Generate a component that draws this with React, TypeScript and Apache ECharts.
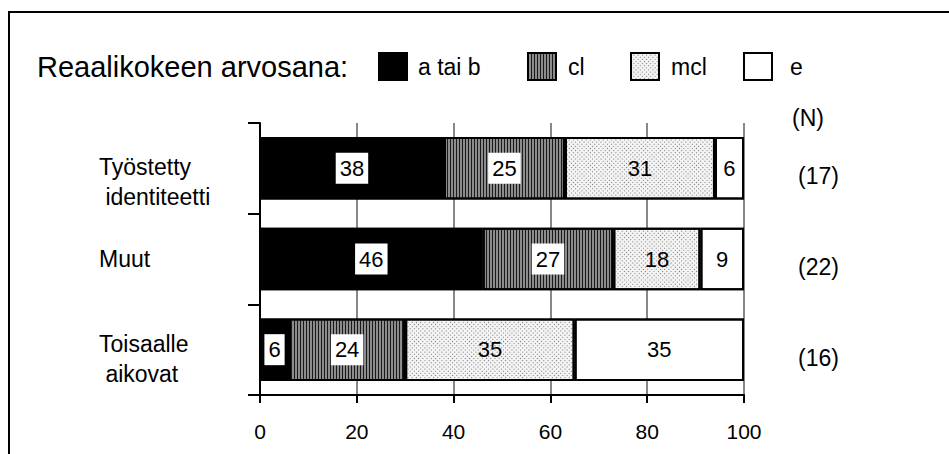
import React, { useEffect, useRef } from "react";
import * as echarts from "echarts";

const categories = ["Työstetty\n identiteetti", "Muut", "Toisaalle\n aikovat"];
const aTaiB = [38, 46, 6];
const cl = [25, 27, 24];
const mcl = [31, 18, 35];
const e = [6, 9, 35];
const nCounts = ["(17)", "(22)", "(16)"];
const seriesNames = ["a tai b", "cl", "mcl", "e"];
const xTicks = { min: 0, max: 100, interval: 20 };

const FONT = "'Liberation Sans', Arial, Helvetica, sans-serif";

export default function App() {
  const ref = useRef<HTMLDivElement>(null);
  useEffect(() => {
    if (!ref.current) return;
    const chart = echarts.init(ref.current, null, { renderer: "svg" });

    const boxLabel = {
      show: true,
      position: "inside",
      color: "#000",
      fontSize: 22,
      lineHeight: 22,
      backgroundColor: "#fff",
      padding: [5, 4, 4, 4],
      fontFamily: FONT,
    };
    const plainLabel = {
      show: true,
      position: "inside",
      color: "#000",
      fontSize: 22,
      lineHeight: 22,
      fontFamily: FONT,
    };
    const border = { borderColor: "#000", borderWidth: 2 };

    const seriesDefs = [
      { data: aTaiB, itemStyle: { color: "#000", ...border, decal: { symbol: "none" } }, label: boxLabel },
      {
        data: cl,
        itemStyle: {
          color: "#8c8c8c",
          ...border,
          decal: { symbol: "rect", symbolSize: 1, color: "#1a1a1a", dashArrayX: [1, 2], dashArrayY: [4, 0] },
        },
        label: boxLabel,
      },
      {
        data: mcl,
        itemStyle: {
          color: "#f4f4f4",
          ...border,
          decal: { symbol: "rect", symbolSize: 1, color: "#777", dashArrayX: [1, 2], dashArrayY: [1, 2] },
        },
        label: plainLabel,
      },
      { data: e, itemStyle: { color: "#fff", ...border, decal: { symbol: "none" } }, label: plainLabel },
    ];

    const legendLeft = [378, 527, 630, 743];
    const legendTextPad = [6, 7, 7, 13];
    const catSpacer = [28, 0, 18];

    const catRich: any = {
      n: { fontSize: 23, lineHeight: 30, color: "#000", fontFamily: FONT, align: "left" },
    };
    catSpacer.forEach((s, i) => {
      if (s > 0) catRich["s" + i] = { fontSize: 8, lineHeight: s, color: "#000", fontFamily: FONT, align: "left" };
    });

    const option: any = {
      animation: false,
      aria: { enabled: true, decal: { show: true } },
      textStyle: { fontFamily: FONT },
      title: [
        {
          text: "Reaalikokeen arvosana:",
          left: 37,
          top: 52,
          padding: 0,
          textStyle: { fontSize: 29, fontWeight: "normal", color: "#000", fontFamily: FONT },
        },
        {
          text: "(N)",
          left: 792,
          top: 106,
          padding: 0,
          textStyle: { fontSize: 23, fontWeight: "normal", color: "#000", fontFamily: FONT },
        },
      ],
      legend: seriesNames.map((name, i) => ({
        data: [name],
        left: legendLeft[i],
        top: 52,
        padding: 0,
        itemWidth: 28,
        itemHeight: 27,
        icon: "rect",
        selectedMode: false,
        itemStyle: { borderColor: "#000", borderWidth: 2 },
        textStyle: { fontSize: 23, color: "#000", fontFamily: FONT, padding: [19, 0, 0, legendTextPad[i]] },
      })),
      graphic: [
        {
          type: "rect",
          shape: { x: 9, y: 12, width: 980, height: 480 },
          style: { fill: "none", stroke: "#000", lineWidth: 2 },
          silent: true,
        },
      ],
      grid: { left: 260, right: 205, top: 123, bottom: 59, containLabel: false, outerBoundsMode: "none" },
      xAxis: {
        type: "value",
        min: xTicks.min,
        max: xTicks.max,
        interval: xTicks.interval,
        axisLine: { show: true, lineStyle: { color: "#000", width: 2 } },
        axisTick: { show: true, length: 8, lineStyle: { color: "#000", width: 2 } },
        axisLabel: { margin: 26, fontSize: 21, color: "#000", fontFamily: FONT },
        splitLine: { show: true, lineStyle: { color: "#888", width: 2 } },
      },
      yAxis: [
        {
          type: "category",
          inverse: true,
          data: categories,
          axisLine: { show: true, lineStyle: { color: "#000", width: 2 } },
          axisTick: { show: true, length: 12, lineStyle: { color: "#000", width: 2 } },
          axisLabel: {
            align: "left",
            margin: 161,
            fontSize: 23,
            lineHeight: 30,
            color: "#000",
            fontFamily: FONT,
            formatter: (value: string, idx: number) => {
              const body = value
                .split("\n")
                .map((l) => `{n|${l}}`)
                .join("\n");
              return catSpacer[idx] > 0 ? `{s${idx}| }\n${body}` : body;
            },
            rich: catRich,
          },
          splitLine: { show: false },
        },
        {
          type: "category",
          inverse: true,
          position: "right",
          data: nCounts,
          axisLine: { show: false },
          axisTick: { show: false },
          axisLabel: {
            align: "left",
            margin: 54,
            color: "#000",
            fontFamily: FONT,
            formatter: (v: string) => `{r|${v}}`,
            rich: { r: { fontSize: 23, lineHeight: 28, color: "#000", fontFamily: FONT, padding: [16, 0, 0, 0] } },
          },
          splitLine: { show: false },
        },
      ],
      series: seriesDefs.map((s, i) => ({
        name: seriesNames[i],
        type: "bar",
        stack: "total",
        yAxisIndex: 0,
        barWidth: "69%",
        data: s.data,
        itemStyle: s.itemStyle,
        label: s.label,
        emphasis: { disabled: true },
      })),
    };

    chart.setOption(option);
    return () => chart.dispose();
  }, []);

  return (
    <div
      ref={ref}
      style={{ position: "fixed", left: 0, top: 0, width: 949, height: 454, background: "#fff" }}
    />
  );
}
